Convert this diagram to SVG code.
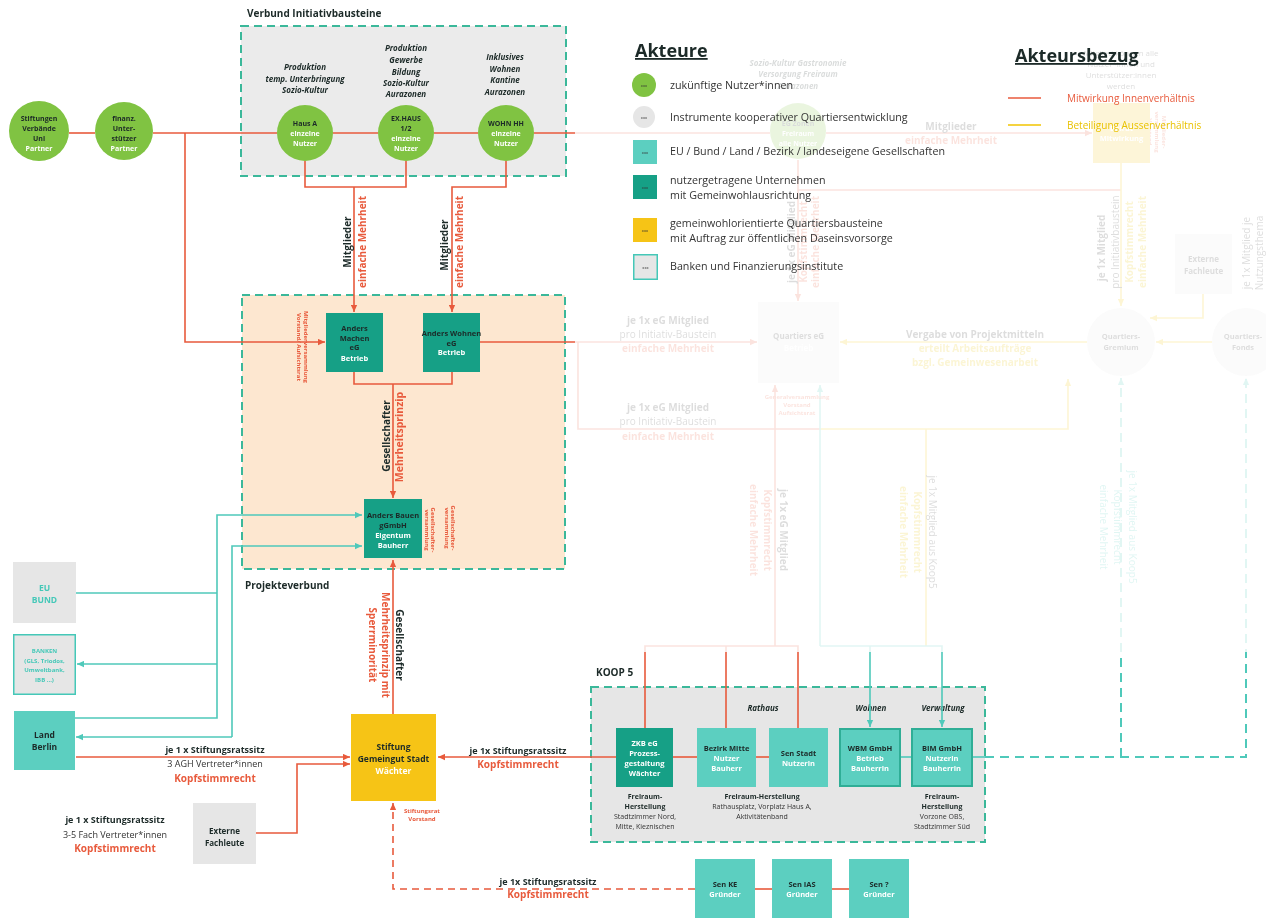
<svg xmlns="http://www.w3.org/2000/svg" width="1266" height="920" viewBox="0 0 1266 920">
<style>
text{font-family:'Open Sans','Liberation Sans',sans-serif;}
.b{font-weight:700}
.i{font-style:italic}
.c{text-anchor:middle}
.dk{fill:#1c2a28}
.wh{fill:#ffffff}
.rd{fill:#e85a3c}
.gy{fill:#333333}
.tl{fill:#45c8b8}
.yl{fill:#e9c200}
.grn{fill:#80c342}
.gry{fill:#e6e6e6}
.teal{fill:#5ccfc0}
.dteal{fill:#16a086}
.yel{fill:#f6c416}
.box{stroke:#3bb89a;stroke-width:2;stroke-dasharray:8 5}
.lr{fill:none;stroke:#e85a3c;stroke-width:1.6}
.lt{fill:none;stroke:#4fc9ba;stroke-width:1.6}
.ly{fill:none;stroke:#f2c500;stroke-width:1.6}
.dash{stroke-dasharray:7 5}
.dash2{stroke-dasharray:9 6;stroke-width:2}
.s6{font-size:6px}.s7{font-size:7px}.s75{font-size:7.5px}.s8{font-size:8px}.s85{font-size:8.5px}.s9{font-size:9px}.s10{font-size:10px}.s105{font-size:10.5px}.s107{font-size:10.7px}
</style>
<defs>
<marker id="ar" viewBox="0 0 10 10" refX="10" refY="5" markerWidth="7" markerHeight="7" markerUnits="userSpaceOnUse" orient="auto"><path d="M0,0.5 L10,5 L0,9.5z" fill="#e85a3c"/></marker>
<marker id="at" viewBox="0 0 10 10" refX="10" refY="5" markerWidth="7" markerHeight="7" markerUnits="userSpaceOnUse" orient="auto"><path d="M0,0.5 L10,5 L0,9.5z" fill="#4fc9ba"/></marker>
<marker id="ay" viewBox="0 0 10 10" refX="10" refY="5" markerWidth="7" markerHeight="7" markerUnits="userSpaceOnUse" orient="auto"><path d="M0,0.5 L10,5 L0,9.5z" fill="#f2c500"/></marker>
<mask id="fade" maskUnits="userSpaceOnUse" x="0" y="0" width="1266" height="920">
<rect width="1266" height="920" fill="#fff"/>
<rect x="575" y="0" width="691" height="652" fill="#000"/>
<rect x="575" y="0" width="691" height="652" fill="#fff" fill-opacity="0.17"/>
</mask>
</defs>
<rect width="1266" height="920" fill="#fff"/>
<g mask="url(#fade)">
<g id="verbund">
<rect x="241" y="26" width="325" height="150" fill="#ebebeb" class="box"/>
<text x="247" y="17" class="b s10 dk">Verbund Initiativbausteine</text>
</g>
<g id="projekteverbund">
<rect x="242" y="295" width="323" height="274" fill="#fde7d0" class="box"/>
<text x="245" y="589" class="b s10 dk">Projekteverbund</text>
</g>
<g id="koop5">
<rect x="591" y="687" width="394" height="155" fill="#e6e6e6" class="box"/>
<text x="596" y="676" class="b s10 dk">KOOP 5</text>
<text class="b i s8 dk c"><tspan x="763" y="711">Rathaus</tspan><tspan x="871" y="711">Wohnen</tspan><tspan x="943" y="711">Verwaltung</tspan></text>
<text class="s7 c"><tspan x="645" y="799" class="b dk">Freiraum-</tspan><tspan x="645" y="809" class="b dk">Herstellung</tspan><tspan x="645" y="819" class="gy">Stadtzimmer Nord,</tspan><tspan x="645" y="829" class="gy">Mitte, Kieznischen</tspan></text>
<text class="s7 c"><tspan x="762" y="799" class="b dk">Freiraum-Herstellung</tspan><tspan x="762" y="809" class="gy">Rathausplatz, Vorplatz Haus A,</tspan><tspan x="762" y="819" class="gy">Aktivitätenband</tspan></text>
<text class="s7 c"><tspan x="942" y="799" class="b dk">Freiraum-</tspan><tspan x="942" y="809" class="b dk">Herstellung</tspan><tspan x="942" y="819" class="gy">Vorzone OBS,</tspan><tspan x="942" y="829" class="gy">Stadtzimmer Süd</tspan></text>
</g>

<g id="connectors">
<path class="lr" d="M69,133 H95"/>
<path class="lr" d="M153,133 H277"/>
<path class="lr" d="M185,133 V342 H325" marker-end="url(#ar)"/>
<path class="lr" d="M333,133 H378"/>
<path class="lr" d="M434,133 H478"/>
<path class="lr" d="M534,133 H770"/>
<path class="lr" d="M826,133 H1092" marker-end="url(#ar)"/>
<path class="lr" d="M305,161 V187 H406 V161"/>
<path class="lr" d="M354,187 V312" marker-end="url(#ar)"/>
<path class="lr" d="M506,161 V187 H452 V312" marker-end="url(#ar)"/>
<path class="lr" d="M480,342 H757" marker-end="url(#ar)"/>
<path class="lr" d="M578,342 V429 H820"/>
<path class="ly" d="M820,429 H1068 V379" marker-end="url(#ay)"/>
<path class="lr" d="M354,372 V384 H452 V372"/>
<path class="lr" d="M393,384 V498" marker-end="url(#ar)"/>
<path class="lr" d="M393,714 V560" marker-end="url(#ar)"/>
<path class="lr" d="M76,757 H350" marker-end="url(#ar)"/>
<path class="lr" d="M256,833 H297 V764 H350" marker-end="url(#ar)"/>
<path class="lr" d="M616,757 H438" marker-end="url(#ar)"/>
<path class="lr" d="M673,757 H697"/>
<path class="lr" d="M756,757 H769"/>
<path class="lr" d="M645,728 V646 H798 V728"/>
<path class="lr" d="M726,646 V728"/>
<path class="lr" d="M775,646 V385" marker-end="url(#ar)"/>
<path class="lr" d="M798,160 V301" marker-end="url(#ar)"/>
<path class="lr" d="M798,190 H1121"/>
<path class="ly" d="M1121,163 V306" marker-end="url(#ay)"/>
<path class="ly" d="M926,429 V646"/>
<path class="ly" d="M1087,342 H840" marker-end="url(#ay)"/>
<path class="ly" d="M1212,342 H1156" marker-end="url(#ay)"/>
<path class="ly" d="M1203,294 V318 H1150" marker-end="url(#ay)"/>
<path class="lt" d="M820,646 H942 V727" marker-end="url(#at)"/>
<path class="lt" d="M870,646 V727" marker-end="url(#at)"/>
<path class="lt" d="M820,646 V385" marker-end="url(#at)"/>
<path class="lt" d="M901,757 H911"/>
<path class="lt" d="M973,757 H985"/>
<path class="lt dash2" d="M985,757 H1246 V378" marker-end="url(#at)"/>
<path class="lt dash2" d="M1121,757 V378" marker-end="url(#at)"/>
<path class="lt" d="M76,593 H217"/>
<path class="lt" d="M75,718 H217 V515 H362" marker-end="url(#at)"/>
<path class="lt" d="M217,664 H77" marker-end="url(#at)"/>
<path class="lt" d="M232,737 H76" marker-end="url(#at)"/>
<path class="lt" d="M232,737 V546 H362" marker-end="url(#at)"/>
<path class="lr dash" d="M695,889 H393 V803" marker-end="url(#ar)"/>
<path class="lr" d="M755,889 H772"/>
<path class="lr" d="M832,889 H849"/>
</g>

<g id="labels">
<text transform="translate(351,242) rotate(-90)" class="b s10 dk c">Mitglieder</text>
<text transform="translate(366,242) rotate(-90)" class="b s10 rd c">einfache Mehrheit</text>
<text transform="translate(448,245) rotate(-90)" class="b s10 dk c">Mitglieder</text>
<text transform="translate(463,242) rotate(-90)" class="b s10 rd c">einfache Mehrheit</text>
<text transform="translate(390,436) rotate(-90)" class="b s10 dk c">Gesellschafter</text>
<text transform="translate(403,437) rotate(-90)" class="b s105 rd c">Mehrheitsprinzip</text>
<text transform="translate(304,347) rotate(90)" class="b s6 rd c"><tspan x="0" dy="0">Mitgliederversammlung</tspan><tspan x="0" dy="7">Vorstand/ Aufsichtsrat</tspan></text>
<text transform="translate(431,530) rotate(90)" class="b s6 rd c"><tspan x="0" dy="0">Gesellschafter-</tspan><tspan x="0" dy="6.5">versammlung</tspan><tspan x="0" dy="6.5">Geschäftsführung</tspan></text>
<text transform="translate(451,528) rotate(90)" class="b s6 rd c"><tspan x="0" dy="0">Gesellschafter-</tspan><tspan x="0" dy="6.5">versammlung</tspan></text>
<text transform="translate(396,645) rotate(90)" class="b s10 dk c">Gesellschafter</text>
<text transform="translate(382,645) rotate(90)" class="b s10 rd c">Mehrheitsprinzip mit</text>
<text transform="translate(369,645) rotate(90)" class="b s10 rd c">Sperrminorität</text>
<text class="c"><tspan x="215" y="753" class="b s9 dk">je 1 x Stiftungsratssitz</tspan><tspan x="215" y="767" class="s9 gy">3 AGH Vertreter*innen</tspan><tspan x="215" y="782" class="b s10 rd">Kopfstimmrecht</tspan></text>
<text class="c"><tspan x="115" y="823" class="b s9 dk">je 1 x Stiftungsratssitz</tspan><tspan x="115" y="838" class="s9 gy">3-5 Fach Vertreter*innen</tspan><tspan x="115" y="852" class="b s10 rd">Kopfstimmrecht</tspan></text>
<text class="c"><tspan x="518" y="754" class="b s9 dk">je 1x Stiftungsratssitz</tspan><tspan x="518" y="768" class="b s10 rd">Kopfstimmrecht</tspan></text>
<text class="c"><tspan x="548" y="885" class="b s9 dk">je 1x Stiftungsratssitz</tspan><tspan x="548" y="898" class="b s10 rd">Kopfstimmrecht</tspan></text>
<text class="b s6 rd c"><tspan x="422" y="813">Stiftungsrat</tspan><tspan x="422" y="821">Vorstand</tspan></text>
<text class="b s10 c"><tspan x="951" y="130" class="gy">Mitglieder</tspan><tspan x="951" y="144" class="rd">einfache Mehrheit</tspan></text>
<text class="s10 c"><tspan x="668" y="324" class="b gy">je 1x eG Mitglied</tspan><tspan x="668" y="338" class="gy">pro Initiativ-Baustein</tspan><tspan x="668" y="352" class="b rd">einfache Mehrheit</tspan></text>
<text class="s10 c"><tspan x="668" y="411" class="b gy">je 1x eG Mitglied</tspan><tspan x="668" y="425" class="gy">pro Initiativ-Baustein</tspan><tspan x="668" y="440" class="b rd">einfache Mehrheit</tspan></text>
<text class="s10 c"><tspan x="975" y="338" class="b gy">Vergabe von Projektmitteln</tspan><tspan x="975" y="352" class="b yl">erteilt Arbeitsaufträge</tspan><tspan x="975" y="366" class="b yl">bzgl. Gemeinwesenarbeit</tspan></text>
<text class="b s6 rd c"><tspan x="797" y="399">Generalversammlung</tspan><tspan x="797" y="407">Vorstand</tspan><tspan x="797" y="415">Aufsichtsrat</tspan></text>
<text transform="translate(795,242) rotate(-90)" class="b s10 gy c">je 1x eG Mitglied</text>
<text transform="translate(807,242) rotate(-90)" class="b s10 rd c">Kopfstimmrecht</text>
<text transform="translate(819,242) rotate(-90)" class="b s10 rd c">einfache Mehrheit</text>
<text transform="translate(1105,248) rotate(-90)" class="b s10 gy c">je 1x Mitglied</text>
<text transform="translate(1119,242) rotate(-90)" class="s10 gy c">pro Initiativbaustein</text>
<text transform="translate(1133,242) rotate(-90)" class="b s10 yl c">Kopfstimmrecht</text>
<text transform="translate(1146,242) rotate(-90)" class="b s10 yl c">einfache Mehrheit</text>
<text transform="translate(1250,253) rotate(-90)" class="s10 gy c">je 1x Mitglied je</text>
<text transform="translate(1263,253) rotate(-90)" class="s10 gy c">Nutzungsthema</text>
<text transform="translate(780,530) rotate(90)" class="b s10 gy c">je 1x eG Mitglied</text>
<text transform="translate(764,530) rotate(90)" class="b s10 rd c">Kopfstimmrecht</text>
<text transform="translate(750,530) rotate(90)" class="b s10 rd c">einfache Mehrheit</text>
<text transform="translate(929,532) rotate(90)" class="s10 gy c">je 1x Mitglied aus Koop5</text>
<text transform="translate(914,532) rotate(90)" class="b s10 yl c">Kopfstimmrecht</text>
<text transform="translate(900,532) rotate(90)" class="b s10 yl c">einfache Mehrheit</text>
<text transform="translate(1129,527) rotate(90)" class="s10 tl c">je 1x Mitglied aus Koop5</text>
<text transform="translate(1114,527) rotate(90)" class="s10 tl c">Kopfstimmrecht</text>
<text transform="translate(1100,527) rotate(90)" class="s10 tl c">einfache Mehrheit</text>
<text class="s8 gy c"><tspan x="1121" y="56">Mitglied können alle</tspan><tspan x="1121" y="67">Nutzer*innen und</tspan><tspan x="1121" y="78">Unterstützer:innen</tspan><tspan x="1121" y="89">werden</tspan></text>
<text transform="translate(1162,132) rotate(90)" class="b s6 rd c"><tspan x="0" dy="0">Mitglieder-</tspan><tspan x="0" dy="7">versammlung</tspan><tspan x="0" dy="7">Vorstand</tspan></text>
</g>

<g id="n-stiftungen"><circle cx="39" cy="131" r="30" class="grn"/><text class="b s7 c"><tspan x="39" y="121" class="dk">Stiftungen</tspan><tspan x="39" y="131" class="dk">Verbände</tspan><tspan x="39" y="141" class="dk">Uni</tspan><tspan x="39" y="151" class="wh">Partner</tspan></text></g>
<g id="n-finanz"><circle cx="124" cy="131" r="29" class="grn"/><text class="b s7 c"><tspan x="124" y="121" class="dk">finanz.</tspan><tspan x="124" y="131" class="dk">Unter-</tspan><tspan x="124" y="141" class="dk">stützer</tspan><tspan x="124" y="151" class="wh">Partner</tspan></text></g>
<g id="n-hausa"><circle cx="305" cy="133" r="28" class="grn"/><text class="b s7 c"><tspan x="305" y="126" class="dk">Haus A</tspan><tspan x="305" y="136" class="wh">einzelne</tspan><tspan x="305" y="146" class="wh">Nutzer</tspan></text>
<text class="b i s8 dk c"><tspan x="305" y="70">Produktion</tspan><tspan x="305" y="82">temp. Unterbringung</tspan><tspan x="305" y="93">Sozio-Kultur</tspan></text></g>
<g id="n-exhaus"><circle cx="406" cy="133" r="28" class="grn"/><text class="b s7 c"><tspan x="406" y="121" class="dk">EX.HAUS</tspan><tspan x="406" y="131" class="dk">1/2</tspan><tspan x="406" y="141" class="wh">einzelne</tspan><tspan x="406" y="151" class="wh">Nutzer</tspan></text>
<text class="b i s8 dk c"><tspan x="406" y="51">Produktion</tspan><tspan x="406" y="63">Gewerbe</tspan><tspan x="406" y="75">Bildung</tspan><tspan x="406" y="86">Sozio-Kultur</tspan><tspan x="406" y="97">Aurazonen</tspan></text></g>
<g id="n-wohnhh"><circle cx="506" cy="133" r="28" class="grn"/><text class="b s7 c"><tspan x="506" y="126" class="dk">WOHN HH</tspan><tspan x="506" y="136" class="wh">einzelne</tspan><tspan x="506" y="146" class="wh">Nutzer</tspan></text>
<text class="b i s8 dk c"><tspan x="505" y="60">Inklusives</tspan><tspan x="505" y="72">Wohnen</tspan><tspan x="505" y="83">Kantine</tspan><tspan x="505" y="95">Aurazonen</tspan></text></g>

<g id="n-andersmachen"><rect x="326" y="313" width="57" height="59" class="dteal"/><text class="b s75 c"><tspan x="354.5" y="331" class="dk">Anders</tspan><tspan x="354.5" y="341" class="dk">Machen</tspan><tspan x="354.5" y="350" class="dk">eG</tspan><tspan x="354.5" y="361" class="wh">Betrieb</tspan></text></g>
<g id="n-anderswohnen"><rect x="423" y="313" width="57" height="59" class="dteal"/><text class="b s75 c"><tspan x="451.5" y="336" class="dk">Anders Wohnen</tspan><tspan x="451.5" y="346" class="dk">eG</tspan><tspan x="451.5" y="355" class="wh">Betrieb</tspan></text></g>
<g id="n-andersbauen"><rect x="364" y="499" width="58" height="59" class="dteal"/><text class="b s75 c"><tspan x="393" y="518" class="dk">Anders Bauen</tspan><tspan x="393" y="528" class="dk">gGmbH</tspan><tspan x="393" y="538" class="wh">Eigentum</tspan><tspan x="393" y="548" class="wh">Bauherr</tspan></text></g>

<g id="n-eubund"><rect x="13" y="562" width="63" height="61" class="gry"/><text class="b s85 tl c"><tspan x="44.5" y="591">EU</tspan><tspan x="44.5" y="603">BUND</tspan></text></g>
<g id="n-banken"><rect x="13.75" y="634.75" width="61.5" height="59.5" class="gry" stroke="#45c8b8" stroke-width="1.5"/><text class="b s6 tl c"><tspan x="44.5" y="653">BANKEN</tspan><tspan x="44.5" y="663">(GLS, Triodos,</tspan><tspan x="44.5" y="672">Umweltbank,</tspan><tspan x="44.5" y="682">IBB ...)</tspan></text></g>
<g id="n-landberlin"><rect x="14" y="711" width="61" height="59" class="teal"/><text class="b s85 dk c"><tspan x="44.5" y="738">Land</tspan><tspan x="44.5" y="750">Berlin</tspan></text></g>
<g id="n-externe"><rect x="193" y="803" width="63" height="61" class="gry"/><text class="b s8 dk c"><tspan x="224.5" y="834">Externe</tspan><tspan x="224.5" y="846">Fachleute</tspan></text></g>
<g id="n-stiftung"><rect x="351" y="714" width="85" height="87" class="yel"/><text class="b s85 c"><tspan x="393.5" y="750" class="dk">Stiftung</tspan><tspan x="393.5" y="762" class="dk">Gemeingut Stadt</tspan><tspan x="393.5" y="774" class="wh">Wächter</tspan></text></g>

<g id="n-zkb"><rect x="616" y="728" width="57" height="59" class="dteal"/><text class="b s75 wh c"><tspan x="644.5" y="746">ZKB eG</tspan><tspan x="644.5" y="756">Prozess-</tspan><tspan x="644.5" y="766">gestaltung</tspan><tspan x="644.5" y="776">Wächter</tspan></text></g>
<g id="n-bezirk"><rect x="697" y="728" width="59" height="59" class="teal"/><text class="b s75 c"><tspan x="726.5" y="751" class="dk">Bezirk Mitte</tspan><tspan x="726.5" y="761" class="wh">Nutzer</tspan><tspan x="726.5" y="771" class="wh">Bauherr</tspan></text></g>
<g id="n-senstadt"><rect x="769" y="728" width="59" height="59" class="teal"/><text class="b s75 c"><tspan x="798.5" y="756" class="dk">Sen Stadt</tspan><tspan x="798.5" y="766" class="wh">Nutzerin</tspan></text></g>
<g id="n-wbm"><rect x="840" y="729" width="60" height="57" class="teal" stroke="#2fae96" stroke-width="2"/><text class="b s75 c"><tspan x="870" y="751" class="dk">WBM GmbH</tspan><tspan x="870" y="761" class="wh">Betrieb</tspan><tspan x="870" y="771" class="wh">Bauherrin</tspan></text></g>
<g id="n-bim"><rect x="912" y="729" width="60" height="57" class="teal" stroke="#2fae96" stroke-width="2"/><text class="b s75 c"><tspan x="942" y="751" class="dk">BIM GmbH</tspan><tspan x="942" y="761" class="wh">Nutzerin</tspan><tspan x="942" y="771" class="wh">Bauherrin</tspan></text></g>
<g id="n-senke"><rect x="695" y="859" width="60" height="59" class="teal"/><text class="b s75 c"><tspan x="725" y="887" class="dk">Sen KE</tspan><tspan x="725" y="897" class="wh">Gründer</tspan></text></g>
<g id="n-senias"><rect x="772" y="859" width="60" height="59" class="teal"/><text class="b s75 c"><tspan x="802" y="887" class="dk">Sen IAS</tspan><tspan x="802" y="897" class="wh">Gründer</tspan></text></g>
<g id="n-sen"><rect x="849" y="859" width="60" height="59" class="teal"/><text class="b s75 c"><tspan x="879" y="887" class="dk">Sen ?</tspan><tspan x="879" y="897" class="wh">Gründer</tspan></text></g>

<g id="n-egzonen"><circle cx="798" cy="131" r="28" class="grn"/><text class="b s7 c"><tspan x="798" y="126" class="dk">EG Zonen</tspan><tspan x="798" y="136" class="wh">Freiraum</tspan><tspan x="798" y="146" class="wh">alle Nutzer</tspan></text>
<text class="b i s8 dk c"><tspan x="798" y="66">Sozio-Kultur Gastronomie</tspan><tspan x="798" y="77">Versorgung Freiraum</tspan><tspan x="798" y="89">Aurazonen</tspan></text></g>
<g id="n-beirat"><rect x="1093" y="103" width="57" height="60" class="yel"/><text class="b s75 wh c"><tspan x="1121.5" y="131">Beirat</tspan><tspan x="1121.5" y="141">Mitwirkung</tspan></text></g>
<g id="n-quartierseg"><rect x="758" y="302" width="81" height="81" class="gry"/><text class="b s8 c"><tspan x="798.5" y="339" class="gy">Quartiers eG</tspan><tspan x="798.5" y="351" class="wh">Betrieb</tspan></text></g>
<g id="n-gremium"><circle cx="1121" cy="342" r="34" class="gry"/><text class="b s75 gy c"><tspan x="1121" y="339">Quartiers-</tspan><tspan x="1121" y="350">Gremium</tspan></text></g>
<g id="n-fonds"><circle cx="1246" cy="342" r="34" class="gry"/><text class="b s75 gy c"><tspan x="1243" y="339">Quartiers-</tspan><tspan x="1243" y="350">Fonds</tspan></text></g>
<g id="n-externe2"><rect x="1175" y="234" width="57" height="60" class="gry"/><text class="b s8 gy c"><tspan x="1203.5" y="262">Externe</tspan><tspan x="1203.5" y="274">Fachleute</tspan></text></g>
</g>

<g id="legend">
<text x="635" y="57" class="b dk" font-size="18" text-decoration="underline">Akteure</text>
<circle cx="644" cy="85" r="12" class="grn"/>
<circle cx="644" cy="117" r="11" class="gry"/>
<rect x="633" y="140" width="24" height="24" class="teal"/>
<rect x="633" y="175" width="24" height="24" class="dteal"/>
<rect x="633" y="218" width="24" height="24" class="yel"/>
<rect x="633.75" y="254.75" width="23.5" height="24.5" class="gry" stroke="#45c8b8" stroke-width="1.5"/>
<text class="gy c" font-size="4"><tspan x="644" y="87">xxx</tspan><tspan x="644" y="119">xxx</tspan><tspan x="645" y="154">xxx</tspan><tspan x="645" y="189">xxx</tspan><tspan x="645" y="232">xxx</tspan><tspan x="645.5" y="269">xxx</tspan></text>
<text class="s107 gy"><tspan x="670" y="89">zukünftige Nutzer*innen</tspan><tspan x="670" y="121">Instrumente kooperativer Quartiersentwicklung</tspan><tspan x="670" y="155">EU / Bund / Land / Bezirk / landeseigene Gesellschaften</tspan><tspan x="670" y="184">nutzergetragene Unternehmen</tspan><tspan x="670" y="199">mit Gemeinwohlausrichtung</tspan><tspan x="670" y="227">gemeinwohlorientierte Quartiersbausteine</tspan><tspan x="670" y="242">mit Auftrag zur öffentlichen Daseinsvorsorge</tspan><tspan x="670" y="270">Banken und Finanzierungsinstitute</tspan></text>
<text x="1015" y="62" class="b dk" font-size="18" text-decoration="underline">Akteursbezug</text>
<path d="M1008,98 H1041" class="lr"/>
<path d="M1008,125 H1041" class="ly"/>
<text x="1067" y="102" class="s10 rd">Mitwirkung Innenverhältnis</text>
<text x="1067" y="129" class="s10 yl">Beteiligung Aussenverhältnis</text>
</g>
</svg>
